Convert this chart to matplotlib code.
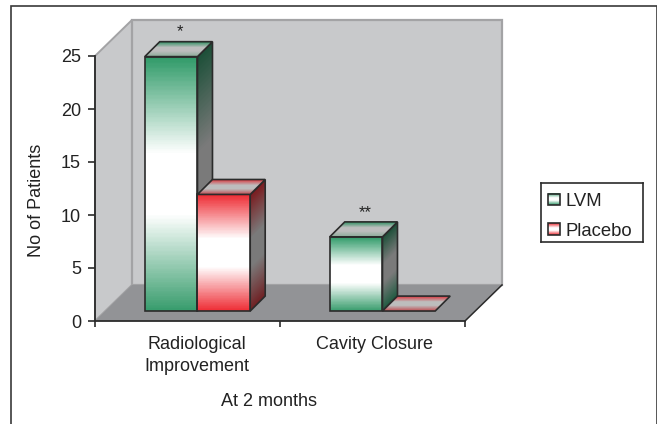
#!/usr/bin/env python

import numpy as np
import matplotlib
matplotlib.use("Agg")
import matplotlib.pyplot as plt
from matplotlib.colors import LinearSegmentedColormap
from matplotlib.patches import Polygon, Rectangle

plt.rcParams['font.family'] = ['Liberation Sans', 'DejaVu Sans']

categories = ["Radiological\nImprovement", "Cavity Closure"]
lvm = [24, 7]
placebo = [11, 0]
notes = ["*", "**"]
y_ticks = [0, 5, 10, 15, 20, 25]
series_names = ["LVM", "Placebo"]

W, H = 657, 424

stops = [0, 0.38, 0.62, 1]
green_front = ["#379c6c", "#ffffff", "#ffffff", "#2f9a68"]
red_front = ["#ee2b33", "#ffffff", "#ffffff", "#ee2b33"]
green_side = ["#1f5a40", "#7a7a7a", "#7a7a7a", "#1c4f38"]
red_side = ["#6f1f22", "#7a7a7a", "#7a7a7a", "#7a1a1e"]
green_top = ["#8aab99", "#bdbdbd", "#bdbdbd", "#2f8f62"]
red_top = ["#c04a50", "#bdbdbd", "#bdbdbd", "#d8353c"]

# depth of the box and of the bars, in data units
DX, DY = 0.2, 3.4
BX, BY = 0.081, 1.41
OX, OY = 0.054, 0.94
BAR_W = 0.285


def make_cmap(cols):
    return LinearSegmentedColormap.from_list("g", list(zip(stops, cols)))


def grad_face(ax, x0, y0, ux, uy, vx, vy, cols, z=3):
    # parallelogram from (x0, y0), gradient runs along v
    s = np.linspace(0, 1, 2)
    t = np.linspace(0, 1, 200)
    ss, tt = np.meshgrid(s, t)
    xx = x0 + ss * ux + tt * vx
    yy = y0 + ss * uy + tt * vy
    c = (t[:-1] + t[1:]) / 2
    ax.pcolormesh(xx, yy, c[:, None], cmap=make_cmap(cols), vmin=0, vmax=1, shading="flat",
                  zorder=z, clip_on=False, antialiased=False)
    outline = [(x0, y0), (x0 + ux, y0 + uy), (x0 + ux + vx, y0 + uy + vy), (x0 + vx, y0 + vy)]
    ax.add_patch(Polygon(outline, closed=True, fill=False, ec="#2b2b2b", lw=1.2, zorder=z + 0.5,
                         clip_on=False))


def draw_bar(ax, left, val, front, side, top):
    x0 = left
    y0 = OY
    h = val
    if h > 0:
        grad_face(ax, x0 + BAR_W, y0, BX, BY, 0, h, side, z=3)
        grad_face(ax, x0, y0, BAR_W, 0, 0, h, front, z=4)
    grad_face(ax, x0, y0 + h, BAR_W, 0, BX, BY, top, z=5)


fig = plt.figure(figsize=(W / 100, H / 100), dpi=100)
fig.patch.set_facecolor("white")
# page frame, open at the bottom of the picture
fig.add_artist(Rectangle((11 / W, -0.02), (W - 11.5) / W, 1.02 - 6.5 / H, transform=fig.transFigure,
                         fill=False, ec="#3a3a3a", lw=1.2))

ax = fig.add_axes([95 / W, 1 - 321 / H, 370 / W, 265 / H])
ax.set_xlim(0, 2)
ax.set_ylim(0, 25)
ax.patch.set_alpha(0)
for s in ["top", "right"]:
    ax.spines[s].set_visible(False)
for s in ["left", "bottom"]:
    ax.spines[s].set_color("#2b2b2b")
    ax.spines[s].set_linewidth(1.3)
    ax.spines[s].set_zorder(2.5)

# walls and floor
ax.add_patch(Polygon([(0, 0), (DX, DY), (DX, 25 + DY), (0, 25)], fc="#c8c9cb", ec="#a3a3a5", lw=1.4,
                     clip_on=False, zorder=1))
ax.add_patch(Polygon([(DX, DY), (2 + DX, DY), (2 + DX, 25 + DY), (DX, 25 + DY)], fc="#c8c9cb",
                     ec="#a3a3a5", lw=1.6, clip_on=False, zorder=1))
ax.add_patch(Polygon([(0, 0), (2, 0), (2 + DX, DY), (DX, DY)], fc="#929396", ec="none",
                     clip_on=False, zorder=1.5))
ax.plot([2, 2 + DX], [0, DY], color="#2b2b2b", lw=1.1, clip_on=False, zorder=1.6)

for i in range(len(categories)):
    left = i + 0.5 + OX - BAR_W
    draw_bar(ax, left, lvm[i], green_front, green_side, green_top)
    draw_bar(ax, left + BAR_W, placebo[i], red_front, red_side, red_top)
    ax.text(left + BAR_W / 2 + BX / 2 + 0.01, lvm[i] + OY + BY + 0.2, notes[i], ha="center", va="bottom",
            fontsize=12, color="#222222", zorder=6)

ax.set_yticks(y_ticks)
ax.set_xticks([0, 1, 2])
ax.set_xticklabels([])
ax.tick_params(axis="y", length=5, width=1.2, color="#2b2b2b", labelsize=13, labelcolor="#222222", pad=5)
ax.tick_params(axis="x", length=4, width=1.2, color="#2b2b2b", direction="out")

for i, c in enumerate(categories):
    ax.text(i + 0.55 - 0.037 * i, -1.42, c, ha="center", va="top", fontsize=13, color="#222222",
            linespacing=1.4)
ax.text(0.94, -7.58, "At 2 months", ha="center", va="center", fontsize=13, color="#222222")
ax.set_ylabel("No of Patients", fontsize=13, color="#222222")
ax.yaxis.set_label_coords(-50 / 370, 0.457)

# legend box
lg = fig.add_axes([541 / W, 1 - 242 / H, 102 / W, 59 / H])
lg.set_xticks([])
lg.set_yticks([])
for s in lg.spines.values():
    s.set_color("#2b2b2b")
    s.set_linewidth(1.2)
for name, yc, cols in zip(series_names, [0.72, 0.22], [green_front, red_front]):
    lg.imshow(np.linspace(0, 1, 32)[:, None], extent=(0.07, 0.186, yc - 0.095, yc + 0.095),
              cmap=make_cmap(cols), aspect="auto", zorder=2)
    lg.add_patch(Rectangle((0.07, yc - 0.095), 0.116, 0.19, fill=False, ec="#2b2b2b", lw=1.2, zorder=3))
    lg.text(0.245, yc - 0.034, name, ha="left", va="center", fontsize=13.3, color="#222222")
lg.set_xlim(0, 1)
lg.set_ylim(0, 1)

fig.savefig("out.png", dpi=100)
